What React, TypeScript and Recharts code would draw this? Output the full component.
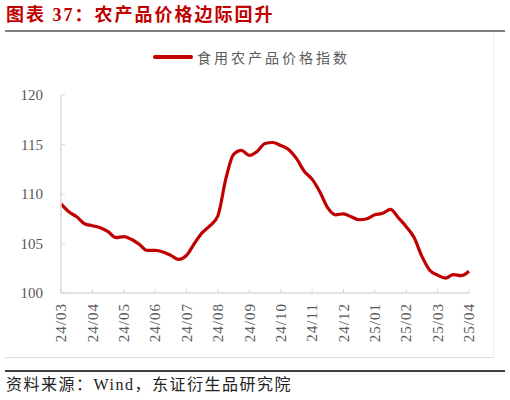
import { Line, LineChart, XAxis, YAxis } from 'recharts'

const MONTHS = ['24/03', '24/04', '24/05', '24/06', '24/07', '24/08', '24/09', '24/10', '24/11', '24/12', '25/01', '25/02', '25/03', '25/04']

// weekly index, four readings per month, first one carries the month label
const WEEKS = [
  ...MONTHS.slice(0, -1).flatMap((m) => [m, `${m}-2`, `${m}-3`, `${m}-4`]),
  MONTHS[MONTHS.length - 1],
]

const FOOD_PRICE = [
  109.0, 108.2, 107.7, 107.0,
  106.8, 106.6, 106.2, 105.6,
  105.7, 105.4, 104.9, 104.3,
  104.3, 104.15, 103.8, 103.4,
  103.8, 105.0, 106.1, 106.8,
  107.8, 111.5, 114.0, 114.4,
  113.9, 114.3, 115.1, 115.2,
  114.9, 114.5, 113.6, 112.3,
  111.5, 110.2, 108.6, 107.9,
  108.0, 107.7, 107.4, 107.5,
  107.9, 108.05, 108.45, 107.6,
  106.7, 105.6, 103.7, 102.3,
  101.8, 101.5, 101.85, 101.75,
  102.2,
]

const Y_TICKS = [100, 105, 110, 115, 120]

const RED = '#C00000'
const AXIS = '#D9D9D9'
const LABEL = '#595959'
const SERIF = '"Liberation Serif", "Noto Sans CJK SC", serif'

const data = WEEKS.map((week, i) => ({ week, value: FOOD_PRICE[i] }))

function MonthTick({ x, y, payload }: { x?: number; y?: number; payload?: { value: string } }) {
  return (
    <text
      x={x}
      y={y}
      transform={`rotate(-90, ${x}, ${y})`}
      textAnchor="end"
      dy="0.35em"
      fill={LABEL}
      fontSize={15}
      fontFamily={SERIF}
      letterSpacing={1}
    >
      {payload?.value}
    </text>
  )
}

export default function App() {
  return (
    <div style={{ position: 'relative', width: 510, height: 400, background: '#fff', fontFamily: SERIF }}>
      <style>{'body{margin:0}'}</style>

      <div
        style={{
          position: 'absolute',
          left: 6,
          top: 3,
          fontSize: 18,
          fontWeight: 700,
          color: RED,
          letterSpacing: 2,
          lineHeight: '24px',
          whiteSpace: 'nowrap',
        }}
      >
        图表 37：农产品价格边际回升
      </div>
      <div style={{ position: 'absolute', left: 5, top: 30, width: 500, height: 2, background: '#7f7f7f' }} />

      <div
        style={{
          position: 'absolute',
          left: 5,
          top: 33,
          width: 488,
          height: 324,
          borderRight: '1px solid #ECECEC',
          borderBottom: '1px solid #DDDDDD',
        }}
      />

      <div style={{ position: 'absolute', left: 153, top: 46, display: 'flex', alignItems: 'center', height: 22 }}>
        <div style={{ width: 40, height: 4, borderRadius: 2, background: RED }} />
        <span
          style={{
            marginLeft: 4,
            fontSize: 14,
            color: LABEL,
            letterSpacing: 3,
            fontFamily: '"Noto Sans CJK SC", sans-serif',
          }}
        >
          食用农产品价格指数
        </span>
      </div>

      <div style={{ position: 'absolute', left: 0, top: 0 }}>
        <LineChart width={510} height={400} data={data} margin={{ top: 95, right: 41, bottom: 57, left: 0 }}>
          <XAxis
            dataKey="week"
            type="category"
            scale="point"
            padding={{ left: 0, right: 0 }}
            ticks={MONTHS}
            interval={0}
            height={50}
            axisLine={{ stroke: AXIS, strokeWidth: 1.5 }}
            tickLine={{ stroke: AXIS }}
            tickSize={-4}
            tickMargin={14}
            tick={<MonthTick />}
          />
          <YAxis
            domain={[100, 120]}
            ticks={Y_TICKS}
            width={61}
            axisLine={{ stroke: AXIS, strokeWidth: 1.5 }}
            tickLine={{ stroke: AXIS }}
            tickSize={-4}
            tickMargin={22}
            tick={{ fill: LABEL, fontSize: 15, fontFamily: SERIF }}
          />
          <Line
            type="monotone"
            dataKey="value"
            stroke={RED}
            strokeWidth={3.2}
            dot={false}
            isAnimationActive={false}
          />
        </LineChart>
      </div>

      <div style={{ position: 'absolute', left: 5, top: 370, width: 500, height: 2, background: '#404040' }} />
      <div
        style={{
          position: 'absolute',
          left: 6,
          top: 374,
          fontSize: 16,
          color: '#222',
          letterSpacing: 1.5,
          lineHeight: '22px',
          whiteSpace: 'nowrap',
        }}
      >
        资料来源：Wind，东证衍生品研究院
      </div>
    </div>
  )
}
